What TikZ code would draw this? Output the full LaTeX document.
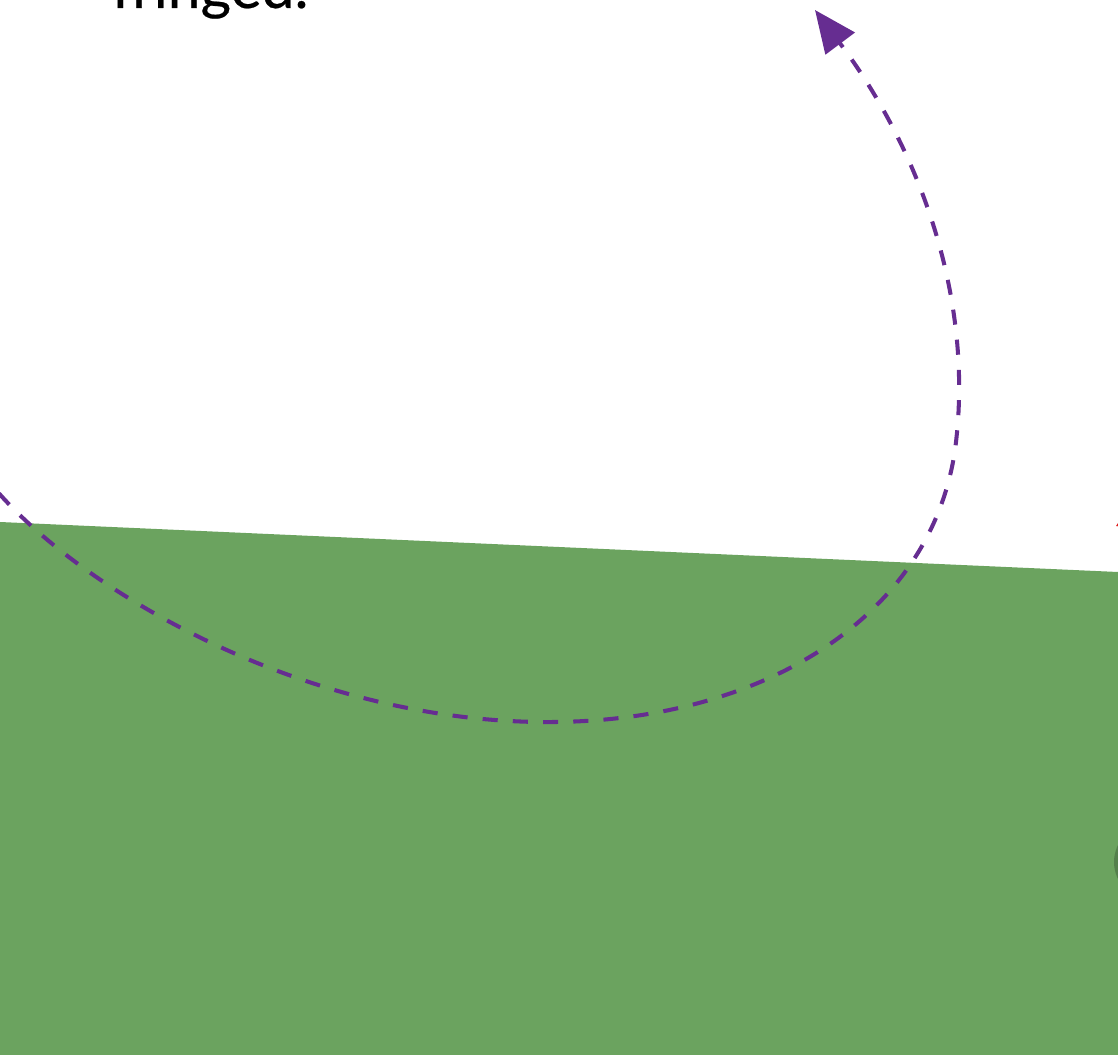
\documentclass[tikz,border=0pt]{standalone}
\usepackage{fontspec}
\setmainfont{Lato}
\usetikzlibrary{arrows.meta}
\definecolor{grass}{RGB}{107,163,95}
\definecolor{darkgrass}{RGB}{84,128,76}
\definecolor{arcpurple}{RGB}{102,45,145}
\definecolor{tipred}{RGB}{225,30,30}
\tikzset{
  loopline/.style={draw=arcpurple, line width=1.15pt, dash pattern=on 4.3pt off 4.3pt,
    -{Triangle[length=0.42cm,width=0.36cm,fill=arcpurple]}},
  caption/.style={font=\fontsize{16.7pt}{20pt}\selectfont\addfontfeature{FakeBold=0.4}, inner sep=0pt, anchor=base west}
}
\begin{document}
\begin{tikzpicture}[x=0.01cm,y=-0.01cm]
\useasboundingbox (0,0) rectangle (1118,1055);
\fill[grass] (0,522) -- (1118,572) -- (1118,1055) -- (0,1055) -- cycle;
\fill[darkgrass] (1152,862) circle (38);
\fill[tipred] (1116,526) -- (1130,505) -- (1140,530) -- cycle;
\node[caption] (txt) at (111,8) {fringed.};
\coordinate (start) at (-20,470);
\coordinate (bottom) at (555,722);
\coordinate (side) at (955,450);
\coordinate (tip) at (815,10);
\draw[loopline] (start) .. controls (60,580) and (300,725) .. (bottom)
  .. controls (760,720) and (930,620) .. (side)
  .. controls (975,300) and (920,150) .. (tip);
\end{tikzpicture}
\end{document}
